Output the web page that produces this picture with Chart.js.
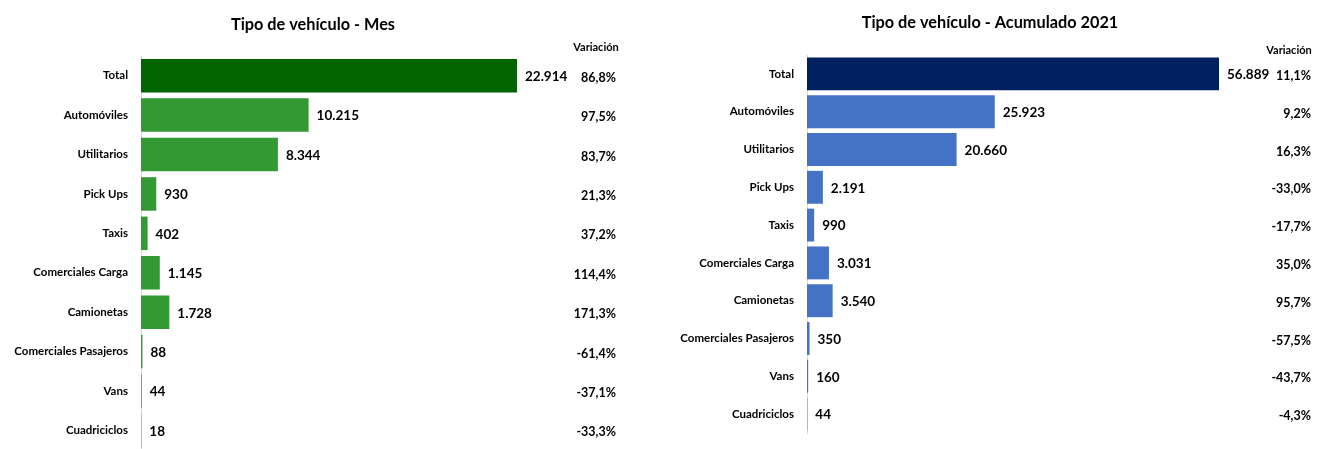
<!DOCTYPE html>
<html>
<head>
<meta charset="utf-8">
<script src="https://cdn.jsdelivr.net/npm/chart.js@4"></script>
<style>
  body { margin: 0; background: #fff; width: 1317px; height: 449px; overflow: hidden; position: relative; }
  .box { position: absolute; top: 0; height: 470px; }
  #boxMes { left: 0; width: 626px; }
  #boxAcum { left: 660px; width: 660px; }
</style>
</head>
<body>
<div class="box" id="boxMes"><canvas id="chartMes"></canvas></div>
<div class="box" id="boxAcum"><canvas id="chartAcum"></canvas></div>
<script>
const categories = ['Total', 'Automóviles', 'Utilitarios', 'Pick Ups', 'Taxis', 'Comerciales Carga', 'Camionetas', 'Comerciales Pasajeros', 'Vans', 'Cuadriciclos'];

const mesValues = [22914, 10215, 8344, 930, 402, 1145, 1728, 88, 44, 18];
const mesVariation = ['86,8%', '97,5%', '83,7%', '21,3%', '37,2%', '114,4%', '171,3%', '-61,4%', '-37,1%', '-33,3%'];

const acumValues = [56889, 25923, 20660, 2191, 990, 3031, 3540, 350, 160, 44];
const acumVariation = ['11,1%', '9,2%', '16,3%', '-33,0%', '-17,7%', '35,0%', '95,7%', '-57,5%', '-43,7%', '-4,3%'];

const FONT = "Lato, 'Open Sans', sans-serif";

function fmt(v) {
    return String(v).replace(/\B(?=(\d{3})+(?!\d))/g, '.');
}

// title, value labels next to bars, variation column
const labelPlugin = {
    id: 'labels',
    afterDatasetsDraw(chart, args, opts) {
        const ctx = chart.ctx;
        const meta = chart.getDatasetMeta(0);
        const values = chart.data.datasets[0].data;
        ctx.save();
        ctx.fillStyle = '#000';
        ctx.textBaseline = 'middle';

        ctx.font = 'bold 16.3px ' + FONT;
        ctx.textAlign = 'center';
        ctx.fillText(opts.title, chart.width / 2, opts.titleY);

        ctx.font = 'bold 13.5px ' + FONT;
        ctx.textAlign = 'left';
        meta.data.forEach((bar, i) => {
            ctx.fillText(fmt(values[i]), bar.x + 8, bar.y + 1);
        });

        ctx.font = 'bold 12.5px ' + FONT;
        ctx.textAlign = 'right';
        meta.data.forEach((bar, i) => {
            ctx.fillText(opts.variation[i], opts.varX, bar.y + 2);
        });

        ctx.font = 'bold 11px ' + FONT;
        ctx.textAlign = 'center';
        ctx.fillText('Variación', opts.headX, chart.chartArea.top + opts.headDy);
        ctx.restore();
    }
};

function makeChart(id, title, values, colors, variation, cfg) {
    return new Chart(document.getElementById(id), {
        type: 'bar',
        data: {
            labels: categories,
            datasets: [{
                data: values,
                backgroundColor: colors,
                borderWidth: 0,
                barPercentage: cfg.barPct,
                categoryPercentage: 1
            }]
        },
        options: {
            indexAxis: 'y',
            responsive: true,
            maintainAspectRatio: false,
            animation: false,
            layout: {
                padding: { top: cfg.padTop, right: cfg.padRight, bottom: cfg.padBottom, left: 0 }
            },
            scales: {
                x: {
                    display: false,
                    min: 0,
                    max: Math.max(...values)
                },
                y: {
                    grid: { display: false, drawTicks: false },
                    border: { display: true, color: '#d9d9d9', width: 1 },
                    ticks: {
                        color: '#000',
                        padding: 13,
                        font: { family: FONT, size: 11.5, weight: 'bold' }
                    },
                    afterFit(scale) { scale.width = cfg.axisX; }
                }
            },
            plugins: {
                legend: { display: false },
                tooltip: { enabled: false },
                title: { display: false },
                labels: {
                    title: title,
                    titleY: cfg.titleY,
                    variation: variation,
                    varX: cfg.varX,
                    headX: cfg.headX,
                    headDy: cfg.headDy
                }
            }
        },
        plugins: [labelPlugin]
    });
}

const greens = categories.map((c, i) => i === 0 ? '#006400' : '#339933');
const blues = categories.map((c, i) => i === 0 ? '#002060' : '#4472C4');

makeChart('chartMes', 'Tipo de vehículo - Mes', mesValues, greens, mesVariation, {
    barPct: 0.85, padTop: 56, padRight: 109, padBottom: 12, axisX: 141,
    titleY: 25, varX: 616, headX: 596, headDy: -9
});

makeChart('chartAcum', 'Tipo de vehículo - Acumulado 2021', acumValues, blues, acumVariation, {
    barPct: 0.87, padTop: 55, padRight: 101, padBottom: 37, axisX: 147,
    titleY: 23, varX: 651, headX: 629, headDy: -5
});
</script>
</body>
</html>
